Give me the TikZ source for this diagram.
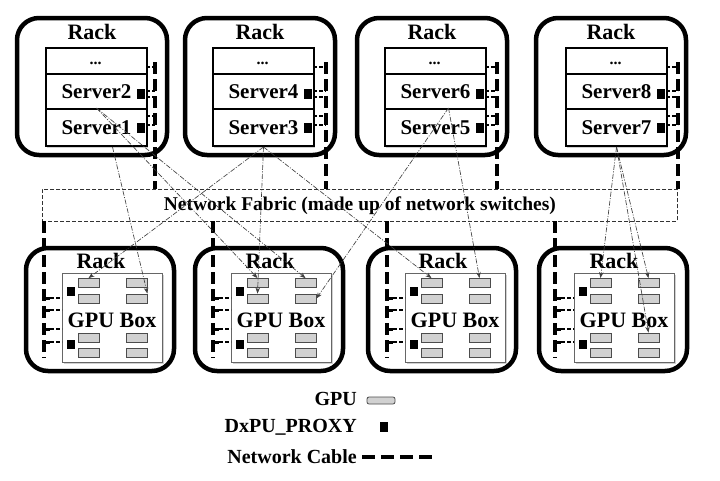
\documentclass[tikz,border=0pt]{standalone}
\usepackage{fontspec}
\setmainfont{Liberation Serif}
\usetikzlibrary{arrows.meta,calc}
\begin{document}
\begin{tikzpicture}[x=1pt,y=-1pt,
 lbl/.style={font=\bfseries\fontsize{22}{24}\selectfont, inner sep=0pt},
 rackbox/.style={draw=black,line width=4.5pt,rounded corners=22pt},
 srv/.style={draw=black,line width=2pt,fill=white,inner sep=0pt,anchor=north west,minimum width=101pt,font=\bfseries\fontsize{21}{24}\selectfont},
 proxy/.style={fill=black,inner sep=0pt,minimum width=8pt,minimum height=10pt},
 cable/.style={line width=4pt,dash pattern=on 12pt off 5pt},
 tap/.style={line width=1.3pt,dash pattern=on 4pt off 2pt},
 gpubox/.style={draw=black!60,line width=0.8pt,fill=white,inner sep=0pt,anchor=north west,minimum width=100pt,minimum height=89pt},
 gpu/.style={draw=black!70,line width=0.8pt,fill=black!18,inner sep=0pt,minimum width=21pt,minimum height=9pt},
 fabric/.style={draw=black!80,line width=0.8pt,dash pattern=on 4pt off 2pt,inner sep=0pt,anchor=north west,minimum width=635pt,minimum height=32pt,font=\bfseries\fontsize{19.5}{22}\selectfont},
 flow/.style={draw=black!75,line width=0.65pt,dash pattern=on 5pt off 1.5pt on 1pt off 1.5pt,-{Stealth[length=6pt,width=4.5pt]}},
 legend/.style={anchor=east,inner sep=0pt,font=\bfseries\fontsize{20}{22}\selectfont},
 shade/.style={fill=black!18}
]
\useasboundingbox (0,0) rectangle (720,480);
\fill[white] (0,0) rectangle (720,480);

\node[fabric] (fab) at (42,189) {Network Fabric (made up of network switches)};

% top racks
\foreach \i/\ox/\sx/\cx/\na/\nb in {1/17/45/155/Server2/Server1, 2/185/212/326/Server4/Server3, 3/357/384/497/Server6/Server5, 4/536/565/678/Server8/Server7}{
  \draw[rackbox] (\ox,18) rectangle ++(150,137);
  \node[lbl] (rt\i) at (\ox+75,32) {Rack};
  \fill[shade] (\sx+2,49) rectangle (\sx+103,147.5);
  \node[srv,minimum height=26pt] (sd\i) at (\sx,47) {};
  \node[srv,minimum height=35pt] (sa\i) at (\sx,73) {\na};
  \node[srv,minimum height=37pt] (sb\i) at (\sx,108) {\nb};
  \node[lbl,font=\bfseries\fontsize{16}{18}\selectfont] (dd\i) at (\sx+50.5,63) {...};
  \node[proxy] (pa\i) at (\sx+96,94) {};
  \node[proxy] (pb\i) at (\sx+96,128) {};
  \draw[cable] (\cx,62) -- (\cx,189);
  \foreach \yy in {67,91,97,116,125} { \draw[tap] (\sx+101,\yy) -- (\cx,\yy); }
}

% bottom racks
\foreach \j/\ox/\gx/\cx in {1/26/62/44, 2/195/231/213, 3/368/405/387, 4/539/574/555}{
  \draw[rackbox] (\ox,248) rectangle ++(148,123);
  \draw[cable] (\cx,221) -- (\cx,358);
  \node[lbl] (rb\j) at (\ox+75,261) {Rack};
  \fill[shade] (\gx+2,275) rectangle (\gx+102,364);
  \node[gpubox] (gb\j) at (\gx,273) {};
  \node[lbl] (gl\j) at (\gx+50,320) {GPU Box};
  \foreach \c/\cxx in {1/26.5,2/74.5}{
    \foreach \r/\ry in {1/283,2/298.5,3/337.5,4/353}{
      \node[gpu] (g\j-\c-\r) at (\gx+\cxx,\ry) {};
    }
  }
  \node[proxy,minimum height=9pt] (pc\j) at (\gx+9,291.5) {};
  \node[proxy,minimum height=9pt] (pd\j) at (\gx+9,344.5) {};
  \foreach \yy in {298,310,329,342} {
    \draw[tap] (\cx,\yy) -- (\gx,\yy);
    \draw[line width=3pt] (\cx,\yy) -- (\cx+6,\yy);
  }
}

% data flows
\draw[flow] (sb1.north) -- (g2-1-1.north);
\draw[flow] (sb1.north) -- (g2-2-1.north);
\draw[flow] ([xshift=16pt]sb1.south) -- (g1-2-2.north east);
\draw[flow] (sb2.south) -- (g1-1-1.north);
\draw[flow] (sb2.south) -- (g2-1-2.north);
\draw[flow] (sb2.south) -- (g3-1-1.north);
\draw[flow] ([xshift=13pt]sb3.north) -- (g2-2-2.east);
\draw[flow] ([xshift=13pt]sb3.north) -- (g3-2-1.north);
\draw[flow] (sb4.south) -- (g4-1-1.north);
\draw[flow] (sb4.south) -- (g4-2-1.north);
\draw[flow] (sb4.south) -- (g4-2-3.north);

% legend
\node[legend] (lg1) at (357,399) {GPU};
\node[draw=black!70,fill=black!18,rounded corners=2pt,minimum width=28pt,minimum height=7pt,inner sep=0pt,line width=0.8pt] (lgg) at (381,400.5) {};
\node[legend] (lg2) at (357,427) {DxPU\_PROXY};
\node[proxy] (lgp) at (384,427) {};
\node[legend] (lg3) at (357,457) {Network Cable};
\coordinate (lc0) at (362,457);
\coordinate (lc1) at (432,457);
\draw[line width=4pt,dash pattern=on 13pt off 6pt] (lc0) -- (lc1);
\end{tikzpicture}
\end{document}
